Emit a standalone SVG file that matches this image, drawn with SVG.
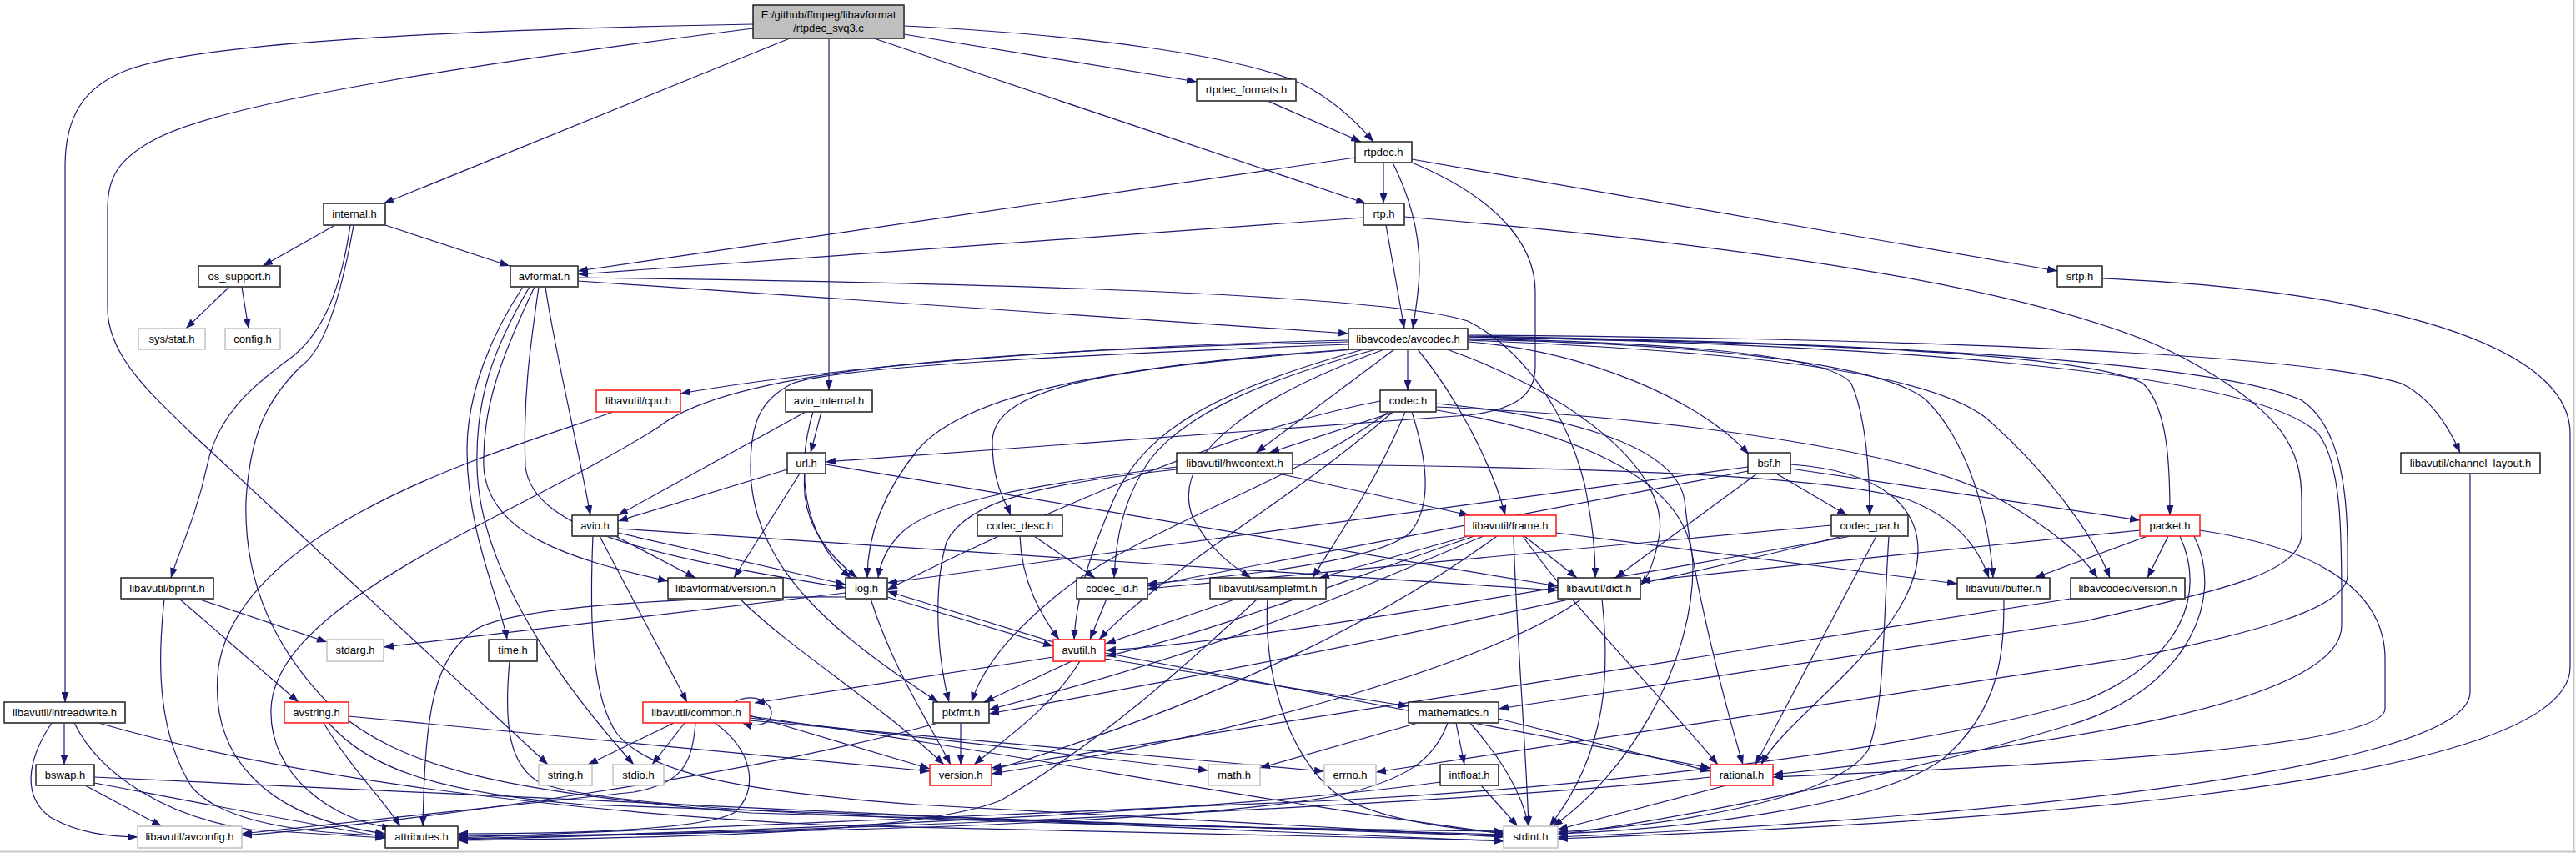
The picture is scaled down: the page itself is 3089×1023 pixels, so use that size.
<svg xmlns="http://www.w3.org/2000/svg" width="3089" height="1023" viewBox="0 0 3089 1023">
<defs>
<marker id="ah" markerUnits="userSpaceOnUse" markerWidth="12" markerHeight="9" refX="12" refY="4.5" orient="auto">
<path d="M0,0 L12,4.5 L0,9 z" fill="#191970"/>
</marker>
<style>
.e{fill:none;stroke:#191970;stroke-width:1.2;marker-end:url(#ah)}
.n rect{fill:#fff;stroke:#000;stroke-width:1.3}
.n polyline,.root polyline{fill:none;stroke:#505050;stroke-width:1.6}
.r rect{fill:#fff;stroke:#ff2020;stroke-width:1.6}
.g rect{fill:#fff;stroke:#c4c4c4;stroke-width:1.6}
.root rect{fill:#bfbfbf;stroke:#000;stroke-width:1.3}
text{font-family:"Liberation Sans",Arial,sans-serif;font-size:13px;text-anchor:middle;fill:#000}
</style>
</defs>
<rect x="0" y="0" width="3089" height="1023" fill="#fff"/>
<line x1="3086.5" y1="0" x2="3086.5" y2="1023" stroke="#c8c8c8" stroke-width="2"/>
<line x1="0" y1="1021.5" x2="3089" y2="1021.5" stroke="#c8c8c8" stroke-width="2"/>
<g id="edges">
<path class="e" d="M903,29 C520,36 230,52 150,85 C100,105 78,140 78,200 L78,842"/>
<path class="e" d="M903,34 C580,75 280,120 190,165 C140,190 129,215 129,250 L129,370 C129,430 190,480 230,520 L657,917"/>
<path class="e" d="M947,46 L460,244"/>
<path class="e" d="M994,46 L994,468"/>
<path class="e" d="M1048,46 L1638,244"/>
<path class="e" d="M1084,41 L1435,98"/>
<path class="e" d="M1084,31 C1300,42 1480,65 1560,100 C1600,120 1630,150 1647,170"/>
<path class="e" d="M1520,121 L1632,170"/>
<path class="e" d="M1625,189 L693,325"/>
<path class="e" d="M1659,195 L1659,244"/>
<path class="e" d="M1670,195 C1690,235 1702,275 1702,320 C1702,350 1697,375 1694,394"/>
<path class="e" d="M1693,195 C1790,235 1841,290 1841,350 L1841,440 C1841,478 1810,492 1760,498 L990,554"/>
<path class="e" d="M1693,191 L2467,325"/>
<path class="e" d="M1635,261 L693,329"/>
<path class="e" d="M1662,270 L1684,394"/>
<path class="e" d="M1684,260 C2050,290 2450,340 2620,430 C2740,495 2760,540 2760,600 L2760,640 C2760,690 2650,710 2500,745 L1797,850"/>
<path class="e" d="M402,270 L315,319"/>
<path class="e" d="M462,270 L611,319"/>
<path class="e" d="M420,270 C410,340 390,400 345,432 C300,465 260,500 248,560 C235,620 215,660 205,693"/>
<path class="e" d="M424,270 C410,350 390,420 360,440 C320,480 300,520 295,600 C292,700 330,780 400,850 C480,920 600,950 900,975 L1803,1001"/>
<path class="e" d="M275,344 L223,394"/>
<path class="e" d="M290,344 L298,394"/>
<path class="e" d="M654,344 C665,420 690,520 708,618"/>
<path class="e" d="M627,344 C590,400 560,470 560,540 C560,640 600,720 608,767"/>
<path class="e" d="M635,344 C590,420 570,480 572,560 C575,700 700,850 760,917"/>
<path class="e" d="M641,344 C600,430 578,490 580,560 C585,640 680,670 801,697"/>
<path class="e" d="M646,344 C635,420 627,480 630,560 C640,640 800,670 1014,705"/>
<path class="e" d="M693,337 L1617,400"/>
<path class="e" d="M693,333 C1100,338 1650,350 1760,385 C1830,420 1880,500 1900,580 C1910,630 1913,660 1913,693"/>
<path class="e" d="M2521,334 C2800,345 3082,400 3082,520 L3082,800 C3082,950 2300,990 1868,1006"/>
<path class="e" d="M966,494 L741,618"/>
<path class="e" d="M985,494 L972,543"/>
<path class="e" d="M975,494 C955,560 960,640 1020,693"/>
<path class="e" d="M944,563 L741,625"/>
<path class="e" d="M959,568 L880,693"/>
<path class="e" d="M965,568 C960,620 985,660 1028,693"/>
<path class="e" d="M990,557 L1868,703"/>
<path class="e" d="M735,494 C640,530 290,620 262,800 C250,900 310,980 462,1000"/>
<path class="e" d="M1617,408 C1300,415 1000,440 816,472"/>
<path class="e" d="M1617,410 C1200,420 880,440 790,512 C620,620 330,720 325,850 C322,930 400,985 470,993"/>
<path class="e" d="M1617,413 C1300,425 1000,440 950,460 C910,480 900,510 900,560 C900,680 1000,760 1125,842"/>
<path class="e" d="M1620,419 C1300,440 1150,480 1100,540 C1060,590 1040,640 1040,693"/>
<path class="e" d="M1625,419 C1350,440 1190,460 1190,530 C1190,580 1205,600 1212,618"/>
<path class="e" d="M1635,419 C1450,470 1370,520 1335,600 C1305,670 1290,720 1288,767"/>
<path class="e" d="M1650,419 C1500,460 1420,500 1380,550 C1345,600 1338,650 1336,693"/>
<path class="e" d="M1660,419 C1520,470 1400,540 1430,620 C1450,660 1480,680 1500,693"/>
<path class="e" d="M1672,419 L1506,543"/>
<path class="e" d="M1688,419 L1688,468"/>
<path class="e" d="M1700,419 C1750,480 1790,560 1805,618"/>
<path class="e" d="M1735,419 C1880,470 2000,560 1990,640 C1985,670 1978,690 1967,702"/>
<path class="e" d="M1760,410 C1900,420 2040,480 2097,545"/>
<path class="e" d="M1760,406 C1950,410 2190,420 2220,460 C2238,500 2242,570 2242,618"/>
<path class="e" d="M1760,407 C2000,412 2250,430 2310,480 C2360,530 2385,620 2390,693"/>
<path class="e" d="M1760,408 C2050,420 2300,440 2380,500 C2450,560 2510,640 2530,693"/>
<path class="e" d="M1760,404 C2100,410 2500,420 2570,460 C2600,490 2602,560 2602,618"/>
<path class="e" d="M1760,402 C2200,405 2750,420 2880,460 C2920,480 2940,520 2950,543"/>
<path class="e" d="M1760,403 C2200,410 2650,430 2760,480 C2820,520 2815,640 2815,690 C2815,730 2700,760 2550,790 L1650,926"/>
<path class="e" d="M1760,404 C2200,412 2700,440 2780,520 C2810,560 2808,650 2808,750 C2808,840 2500,890 2126,929"/>
<path class="e" d="M1672,494 L1522,543"/>
<path class="e" d="M1655,481 C1450,520 1200,640 1064,707"/>
<path class="e" d="M1665,494 C1550,580 1350,640 1260,720 C1200,770 1175,810 1165,842"/>
<path class="e" d="M1670,494 C1550,600 1400,680 1318,767"/>
<path class="e" d="M1693,494 C1714,560 1716,610 1690,640 C1650,672 1500,690 1376,700"/>
<path class="e" d="M1685,494 C1650,580 1600,650 1574,693"/>
<path class="e" d="M1723,492 C1900,520 2030,580 2030,680 C2030,800 1950,930 1862,991"/>
<path class="e" d="M1722,484 C1900,500 2010,540 2020,600 C2030,700 2070,850 2090,917"/>
<path class="e" d="M1722,488 C2000,500 2300,540 2400,600 C2470,640 2500,670 2515,693"/>
<path class="e" d="M1411,560 C1250,580 1120,600 1080,640 C1060,660 1055,680 1053,693"/>
<path class="e" d="M1411,563 C1250,580 1160,600 1135,650 C1120,700 1122,780 1138,842"/>
<path class="e" d="M1533,568 L1762,618"/>
<path class="e" d="M1550,557 C1900,560 2200,570 2290,600 C2340,620 2370,650 2385,693"/>
<path class="e" d="M2107,568 L1937,693"/>
<path class="e" d="M2096,560 L1064,699"/>
<path class="e" d="M2096,565 L1376,703"/>
<path class="e" d="M2130,568 L2215,618"/>
<path class="e" d="M2147,562 L2566,624"/>
<path class="e" d="M2147,557 C2260,565 2300,610 2300,660 C2300,760 2140,860 2112,917"/>
<path class="e" d="M2962,568 L2962,830 C2962,930 2300,985 1868,1004"/>
<path class="e" d="M711,643 C706,760 712,840 740,880 C780,930 900,950 1100,965 L1803,1004"/>
<path class="e" d="M719,643 L824,842"/>
<path class="e" d="M741,634 L1868,708"/>
<path class="e" d="M741,639 L1014,701"/>
<path class="e" d="M738,643 L834,693"/>
<path class="e" d="M1223,643 C1225,700 1250,740 1270,767"/>
<path class="e" d="M1240,643 L1313,693"/>
<path class="e" d="M1815,643 C1818,750 1830,900 1833,991"/>
<path class="e" d="M1768,643 C1600,700 1450,760 1326,787"/>
<path class="e" d="M1866,639 L2347,700"/>
<path class="e" d="M1828,643 L1891,693"/>
<path class="e" d="M1826,643 C1880,720 1960,800 2060,917"/>
<path class="e" d="M1760,643 L1582,693"/>
<path class="e" d="M1779,643 C1640,700 1500,770 1186,851"/>
<path class="e" d="M1795,643 C1690,720 1500,830 1189,924"/>
<path class="e" d="M2265,643 C2258,750 2260,850 2240,900 C2200,960 2000,990 1868,998"/>
<path class="e" d="M2250,643 L2105,917"/>
<path class="e" d="M2220,643 C1900,700 1500,770 1326,780"/>
<path class="e" d="M2210,643 C1900,720 1500,800 1186,856"/>
<path class="e" d="M2196,630 L1376,706"/>
<path class="e" d="M2575,643 L2440,693"/>
<path class="e" d="M2600,643 L2575,693"/>
<path class="e" d="M2566,636 L1967,697"/>
<path class="e" d="M2638,636 C2800,660 2860,720 2860,790 L2860,850 C2860,900 2400,920 2126,932"/>
<path class="e" d="M2614,643 C2645,710 2620,790 2500,840 C2300,900 1900,945 1600,960 L549,1005"/>
<path class="e" d="M2631,643 C2670,720 2620,830 2480,870 C2300,925 2000,985 1868,1001"/>
<path class="e" d="M237,718 L392,770"/>
<path class="e" d="M215,718 L358,842"/>
<path class="e" d="M197,718 C188,800 190,880 230,944 C270,990 380,1000 462,1002"/>
<path class="e" d="M887,718 C950,780 1050,840 1132,917"/>
<path class="e" d="M1014,711 L460,776"/>
<path class="e" d="M1064,716 L1263,775"/>
<path class="e" d="M1014,716 C850,715 620,725 570,755 C520,790 510,850 507,991"/>
<path class="e" d="M1044,718 C1070,800 1110,860 1140,917"/>
<path class="e" d="M1327,718 L1307,767"/>
<path class="e" d="M1483,718 L1326,772"/>
<path class="e" d="M1520,718 C1515,800 1540,900 1600,950 C1650,985 1750,995 1803,999"/>
<path class="e" d="M1508,718 C1420,800 1320,890 1200,960 C1100,1000 800,1005 549,1008"/>
<path class="e" d="M1921,718 C1930,800 1930,900 1858,991"/>
<path class="e" d="M1897,718 C1800,790 1500,880 1189,928"/>
<path class="e" d="M2403,718 C2403,780 2400,850 2330,910 C2250,970 2000,995 1868,1000"/>
<path class="e" d="M2483,718 L1189,921"/>
<path class="e" d="M611,793 C604,870 610,920 650,940 C750,975 1200,990 1803,997"/>
<path class="e" d="M1263,788 L905,843"/>
<path class="e" d="M1263,770 L1064,709"/>
<path class="e" d="M1285,793 L1180,842"/>
<path class="e" d="M1295,793 C1260,850 1200,890 1168,917"/>
<path class="e" d="M1325,790 L1689,847"/>
<path class="e" d="M1325,783 L2051,921"/>
<path class="e" d="M77,867 L77,917"/>
<path class="e" d="M62,867 C40,900 20,950 60,980 C95,1000 130,1003 165,1004"/>
<path class="e" d="M89,867 C120,930 200,980 300,995 L462,1005"/>
<path class="e" d="M118,867 C300,920 600,970 1000,990 L1803,1008"/>
<path class="e" d="M394,867 C440,920 520,950 700,965 L1803,1003"/>
<path class="e" d="M388,867 C420,920 460,960 480,991"/>
<path class="e" d="M418,859 L1115,925"/>
<path class="e" d="M808,867 L705,917"/>
<path class="e" d="M821,867 L782,917"/>
<path class="e" d="M834,867 C830,920 815,940 760,950 L290,1000"/>
<path class="e" d="M857,867 C905,900 910,950 880,975 C840,995 700,1000 549,1000"/>
<path class="e" d="M880,842 C905,830 925,842 925,855 C925,870 905,872 890,867"/>
<path class="e" d="M899,861 L1449,924"/>
<path class="e" d="M899,864 C1200,890 1400,910 1588,925"/>
<path class="e" d="M899,858 L1115,922"/>
<path class="e" d="M899,859 C1200,900 1500,960 1803,1000"/>
<path class="e" d="M1152,867 L1152,917"/>
<path class="e" d="M1125,867 C900,930 500,985 290,1002"/>
<path class="e" d="M1700,867 L1511,921"/>
<path class="e" d="M1763,867 C1800,910 1825,950 1833,991"/>
<path class="e" d="M1746,867 L1756,917"/>
<path class="e" d="M1797,862 L2051,925"/>
<path class="e" d="M1736,867 C1720,910 1690,935 1600,955 C1400,990 900,1000 549,1003"/>
<path class="e" d="M1776,942 L1820,991"/>
<path class="e" d="M1727,938 C1500,970 1000,995 549,1006"/>
<path class="e" d="M2070,942 L1868,995"/>
<path class="e" d="M2051,932 C1800,960 1200,990 549,1007"/>
<path class="e" d="M113,932 C500,950 1200,985 1803,1009"/>
<path class="e" d="M102,942 L194,991"/>
<path class="e" d="M113,939 C250,965 380,990 462,1004"/>
</g>
<g id="n_root" class="root"><rect x="903" y="6" width="181" height="40"/><polyline points="903,46 1084,46 1084,6"/><text x="993.5" y="22">E:/github/ffmpeg/libavformat</text><text x="993.5" y="38">/rtpdec_svq3.c</text></g>
<g id="n_rtpdec_formats" class="n"><rect x="1435" y="95" width="119" height="26"/><polyline points="1435,121 1554,121 1554,95"/><text x="1494.5" y="112">rtpdec_formats.h</text></g>
<g id="n_rtpdec" class="n"><rect x="1625" y="170" width="68" height="25"/><polyline points="1625,195 1693,195 1693,170"/><text x="1659" y="187">rtpdec.h</text></g>
<g id="n_internal" class="n"><rect x="388" y="244" width="74" height="26"/><polyline points="388,270 462,270 462,244"/><text x="425" y="261">internal.h</text></g>
<g id="n_rtp" class="n"><rect x="1635" y="244" width="49" height="26"/><polyline points="1635,270 1684,270 1684,244"/><text x="1659.5" y="261">rtp.h</text></g>
<g id="n_os_support" class="n"><rect x="238" y="319" width="98" height="25"/><polyline points="238,344 336,344 336,319"/><text x="287" y="336">os_support.h</text></g>
<g id="n_avformat" class="n"><rect x="612" y="319" width="81" height="25"/><polyline points="612,344 693,344 693,319"/><text x="652.5" y="336">avformat.h</text></g>
<g id="n_srtp" class="n"><rect x="2467" y="319" width="54" height="25"/><polyline points="2467,344 2521,344 2521,319"/><text x="2494" y="336">srtp.h</text></g>
<g id="n_sysstat" class="g"><rect x="166" y="394" width="80" height="25"/><text x="206" y="411">sys/stat.h</text></g>
<g id="n_config" class="g"><rect x="270" y="394" width="66" height="25"/><text x="303" y="411">config.h</text></g>
<g id="n_avcodec" class="n"><rect x="1617" y="394" width="143" height="25"/><polyline points="1617,419 1760,419 1760,394"/><text x="1688.5" y="411">libavcodec/avcodec.h</text></g>
<g id="n_cpu" class="r"><rect x="715" y="468" width="101" height="26"/><text x="765.5" y="485">libavutil/cpu.h</text></g>
<g id="n_avio_internal" class="n"><rect x="942" y="468" width="104" height="26"/><polyline points="942,494 1046,494 1046,468"/><text x="994" y="485">avio_internal.h</text></g>
<g id="n_codec" class="n"><rect x="1655" y="468" width="67" height="26"/><polyline points="1655,494 1722,494 1722,468"/><text x="1688.5" y="485">codec.h</text></g>
<g id="n_url" class="n"><rect x="944" y="543" width="46" height="25"/><polyline points="944,568 990,568 990,543"/><text x="967" y="560">url.h</text></g>
<g id="n_hwcontext" class="n"><rect x="1411" y="543" width="139" height="25"/><polyline points="1411,568 1550,568 1550,543"/><text x="1480.5" y="560">libavutil/hwcontext.h</text></g>
<g id="n_bsf" class="n"><rect x="2096" y="543" width="51" height="25"/><polyline points="2096,568 2147,568 2147,543"/><text x="2121.5" y="560">bsf.h</text></g>
<g id="n_channel_layout" class="n"><rect x="2879" y="543" width="167" height="25"/><polyline points="2879,568 3046,568 3046,543"/><text x="2962.5" y="560">libavutil/channel_layout.h</text></g>
<g id="n_avio" class="n"><rect x="686" y="618" width="55" height="25"/><polyline points="686,643 741,643 741,618"/><text x="713.5" y="635">avio.h</text></g>
<g id="n_codec_desc" class="n"><rect x="1172" y="618" width="102" height="25"/><polyline points="1172,643 1274,643 1274,618"/><text x="1223" y="635">codec_desc.h</text></g>
<g id="n_frame" class="r"><rect x="1756" y="618" width="110" height="25"/><text x="1811" y="635">libavutil/frame.h</text></g>
<g id="n_codec_par" class="n"><rect x="2196" y="618" width="92" height="25"/><polyline points="2196,643 2288,643 2288,618"/><text x="2242" y="635">codec_par.h</text></g>
<g id="n_packet" class="r"><rect x="2566" y="618" width="72" height="25"/><text x="2602" y="635">packet.h</text></g>
<g id="n_bprint" class="n"><rect x="145" y="693" width="111" height="25"/><polyline points="145,718 256,718 256,693"/><text x="200.5" y="710">libavutil/bprint.h</text></g>
<g id="n_lavf_version" class="n"><rect x="801" y="693" width="138" height="25"/><polyline points="801,718 939,718 939,693"/><text x="870" y="710">libavformat/version.h</text></g>
<g id="n_log" class="n"><rect x="1014" y="693" width="50" height="25"/><polyline points="1014,718 1064,718 1064,693"/><text x="1039" y="710">log.h</text></g>
<g id="n_codec_id" class="n"><rect x="1291" y="693" width="85" height="25"/><polyline points="1291,718 1376,718 1376,693"/><text x="1333.5" y="710">codec_id.h</text></g>
<g id="n_samplefmt" class="n"><rect x="1451" y="693" width="139" height="25"/><polyline points="1451,718 1590,718 1590,693"/><text x="1520.5" y="710">libavutil/samplefmt.h</text></g>
<g id="n_dict" class="n"><rect x="1868" y="693" width="99" height="25"/><polyline points="1868,718 1967,718 1967,693"/><text x="1917.5" y="710">libavutil/dict.h</text></g>
<g id="n_buffer" class="n"><rect x="2347" y="693" width="111" height="25"/><polyline points="2347,718 2458,718 2458,693"/><text x="2402.5" y="710">libavutil/buffer.h</text></g>
<g id="n_lavc_version" class="n"><rect x="2483" y="693" width="137" height="25"/><polyline points="2483,718 2620,718 2620,693"/><text x="2551.5" y="710">libavcodec/version.h</text></g>
<g id="n_stdarg" class="g"><rect x="392" y="767" width="68" height="26"/><text x="426" y="784">stdarg.h</text></g>
<g id="n_time" class="n"><rect x="586" y="767" width="58" height="26"/><polyline points="586,793 644,793 644,767"/><text x="615" y="784">time.h</text></g>
<g id="n_avutil" class="r"><rect x="1263" y="767" width="62" height="26"/><text x="1294" y="784">avutil.h</text></g>
<g id="n_intreadwrite" class="n"><rect x="5" y="842" width="145" height="25"/><polyline points="5,867 150,867 150,842"/><text x="77.5" y="859">libavutil/intreadwrite.h</text></g>
<g id="n_avstring" class="r"><rect x="341" y="842" width="77" height="25"/><text x="379.5" y="859">avstring.h</text></g>
<g id="n_common" class="r"><rect x="771" y="842" width="128" height="25"/><text x="835" y="859">libavutil/common.h</text></g>
<g id="n_pixfmt" class="n"><rect x="1119" y="842" width="67" height="25"/><polyline points="1119,867 1186,867 1186,842"/><text x="1152.5" y="859">pixfmt.h</text></g>
<g id="n_mathematics" class="n"><rect x="1689" y="842" width="108" height="25"/><polyline points="1689,867 1797,867 1797,842"/><text x="1743" y="859">mathematics.h</text></g>
<g id="n_bswap" class="n"><rect x="43" y="917" width="70" height="25"/><polyline points="43,942 113,942 113,917"/><text x="78" y="934">bswap.h</text></g>
<g id="n_string" class="g"><rect x="646" y="917" width="64" height="25"/><text x="678" y="934">string.h</text></g>
<g id="n_stdio" class="g"><rect x="735" y="917" width="61" height="25"/><text x="765.5" y="934">stdio.h</text></g>
<g id="n_version" class="r"><rect x="1115" y="917" width="74" height="25"/><text x="1152" y="934">version.h</text></g>
<g id="n_math" class="g"><rect x="1449" y="917" width="62" height="25"/><text x="1480" y="934">math.h</text></g>
<g id="n_errno" class="g"><rect x="1588" y="917" width="62" height="25"/><text x="1619" y="934">errno.h</text></g>
<g id="n_intfloat" class="n"><rect x="1727" y="917" width="70" height="25"/><polyline points="1727,942 1797,942 1797,917"/><text x="1762" y="934">intfloat.h</text></g>
<g id="n_rational" class="r"><rect x="2051" y="917" width="75" height="25"/><text x="2088.5" y="934">rational.h</text></g>
<g id="n_avconfig" class="g"><rect x="165" y="991" width="125" height="26"/><text x="227.5" y="1008">libavutil/avconfig.h</text></g>
<g id="n_attributes" class="n"><rect x="462" y="991" width="87" height="26"/><polyline points="462,1017 549,1017 549,991"/><text x="505.5" y="1008">attributes.h</text></g>
<g id="n_stdint" class="g"><rect x="1803" y="991" width="65" height="26"/><text x="1835.5" y="1008">stdint.h</text></g>
</svg>
